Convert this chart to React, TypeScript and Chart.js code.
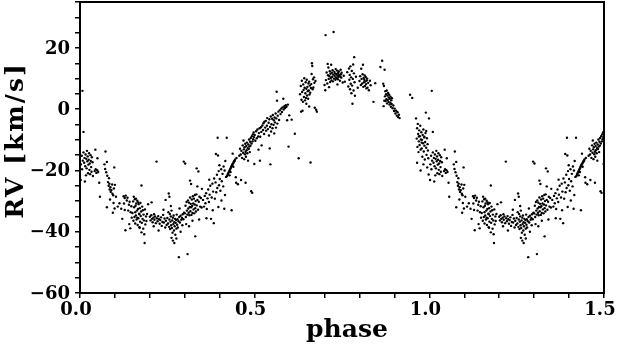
import { useEffect, useRef } from 'react';
import { Chart, registerables } from 'chart.js';

Chart.register(...registerables);

// Observations folded on phase [0,1): [phase, RV km/s]
const obsPhase00to10: [number, number][] = [
  [0.005,-15.2],[0.008,-16.8],[0.010,-14.1],[0.012,-17.5],[0.013,-15.9],[0.015,-18.6],[0.016,-14.8],[0.018,-16.2],
  [0.019,-19.3],[0.020,-13.6],[0.021,-17.0],[0.022,-15.4],[0.024,-18.1],[0.025,-16.5],[0.026,-14.4],[0.027,-19.8],
  [0.028,-17.7],[0.030,-15.0],[0.031,-16.9],[0.032,-18.9],[0.033,-20.4],[0.034,-15.7],[0.036,-17.3],[0.003,-18.0],
  [0.006,-19.6],[0.029,-21.2],[0.023,-20.9],[0.017,-21.6],[0.007,6.0],[0.010,-7.4],[0.002,-23.1],[0.014,-23.6],
  [0.037,-21.8],[0.042,-20.2],[0.045,-19.6],[0.047,-20.8],[0.049,-19.9],[0.052,-20.5],[0.050,-16.0],[0.055,-24.0],
  [0.057,-28.6],[0.044,-13.2],[0.073,-13.8],[0.070,-18.0],[0.072,-19.5],[0.075,-20.6],[0.078,-21.7],[0.077,-17.2],
  [0.080,-23.8],[0.082,-25.0],[0.084,-24.3],[0.085,-26.2],[0.087,-25.5],[0.088,-27.0],[0.090,-26.4],[0.092,-24.6],
  [0.093,-27.6],[0.095,-28.1],[0.097,-25.9],[0.098,-19.0],[0.100,-24.7],[0.077,-32.0],[0.099,-32.4],[0.096,-30.6],
  [0.094,-33.8],[0.086,-29.5],[0.083,-22.5],
];

const obsPhase10to20: [number, number][] = [
  [0.103,-28.6],[0.108,-31.8],[0.113,-30.7],[0.118,-32.5],[0.125,-28.4],[0.128,-29.0],[0.131,-28.2],[0.134,-29.8],
  [0.136,-28.9],[0.126,-30.8],[0.128,-32.9],[0.130,-39.5],[0.138,-33.1],[0.140,-31.2],[0.142,-30.2],[0.145,-33.6],
  [0.147,-31.7],[0.148,-35.4],[0.121,-35.8],[0.141,-37.5],[0.144,-38.9],
  [0.150,-33.9],[0.152,-30.1],[0.153,-36.4],[0.155,-32.0],[0.156,-35.2],[0.157,-29.4],[0.158,-37.3],[0.159,-31.5],
  [0.160,-34.7],[0.161,-30.8],[0.162,-36.0],[0.163,-33.1],[0.164,-29.9],[0.165,-37.8],[0.166,-32.6],[0.167,-35.6],
  [0.168,-31.0],[0.169,-34.1],[0.170,-38.5],[0.171,-32.3],[0.172,-36.7],[0.173,-30.6],[0.174,-34.9],[0.175,-33.4],
  [0.176,-24.9],[0.177,-37.1],[0.178,-31.8],[0.179,-35.8],[0.180,-33.0],[0.181,-39.0],[0.182,-34.4],[0.183,-36.3],
  [0.185,-43.7],[0.186,-32.7],[0.187,-37.6],[0.189,-35.0],[0.190,-36.5],[0.192,-34.2],[0.195,-31.0],[0.154,-28.6],
  [0.160,-29.2],[0.167,-30.4],[0.171,-38.7],[0.176,-40.2],[0.184,-40.8],[0.158,-33.6],[0.164,-35.4],[0.170,-34.3],
];

const obsPhase20to30: [number, number][] = [
  [0.200,-35.1],[0.202,-36.3],[0.204,-34.6],[0.206,-35.8],[0.208,-36.9],[0.210,-35.4],[0.212,-34.3],[0.213,-36.1],
  [0.215,-35.0],[0.217,-37.2],[0.219,-17.1],[0.220,-35.6],[0.222,-36.6],[0.224,-34.9],[0.226,-35.9],[0.228,-37.4],
  [0.230,-36.2],[0.232,-35.3],[0.234,-38.1],[0.236,-36.8],[0.238,-34.5],[0.240,-37.0],[0.242,-35.7],[0.244,-38.6],
  [0.246,-36.4],[0.248,-37.8],[0.205,-30.4],[0.211,-38.2],[0.225,-39.6],[0.239,-32.8],[0.245,-29.6],
  [0.250,-35.5],[0.252,-37.3],[0.253,-33.6],[0.255,-38.4],[0.256,-36.0],[0.257,-34.2],[0.258,-39.1],[0.259,-36.7],
  [0.260,-35.0],[0.261,-37.9],[0.262,-33.1],[0.263,-38.8],[0.264,-36.3],[0.265,-40.3],[0.266,-35.4],[0.267,-37.5],
  [0.268,-34.7],[0.269,-39.6],[0.270,-36.9],[0.271,-38.2],[0.272,-35.8],[0.273,-41.0],[0.274,-37.1],[0.275,-36.2],
  [0.276,-39.0],[0.277,-34.4],[0.278,-37.7],[0.279,-35.9],[0.280,-38.6],[0.282,-36.6],[0.284,-35.2],[0.286,-37.0],
  [0.288,-34.8],[0.290,-36.1],[0.292,-35.5],[0.294,-34.3],[0.296,-35.9],[0.298,-33.8],[0.254,-27.5],[0.256,-28.6],
  [0.260,-31.6],[0.266,-42.9],[0.270,-43.7],[0.276,-42.2],[0.283,-48.3],[0.297,-17.1],[0.288,-40.0],[0.262,-42.0],
  [0.285,-32.4],[0.293,-37.9],
];

const obsPhase30to40: [number, number][] = [
  [0.300,-34.0],[0.302,-31.5],[0.303,-35.2],[0.305,-30.3],[0.306,-33.1],[0.307,-34.4],[0.308,-47.3],[0.309,-29.8],
  [0.310,-32.4],[0.311,-33.8],[0.312,-30.5],[0.313,-34.6],[0.314,-31.9],[0.315,-28.8],[0.316,-33.3],[0.317,-30.9],
  [0.318,-32.0],[0.319,-34.5],[0.320,-29.5],[0.321,-31.6],[0.322,-33.9],[0.323,-28.4],[0.324,-30.8],[0.325,-32.7],
  [0.326,-29.2],[0.327,-34.0],[0.328,-31.1],[0.329,-28.0],[0.330,-32.3],[0.331,-30.0],[0.332,-33.4],[0.333,-27.8],
  [0.334,-31.4],[0.336,-29.6],[0.338,-32.8],[0.340,-30.2],[0.342,-28.6],[0.344,-31.8],[0.346,-29.0],[0.348,-32.1],
  [0.301,-17.7],[0.315,-23.3],[0.318,-24.4],[0.330,-41.5],[0.334,-19.3],[0.339,-20.3],[0.304,-37.5],[0.312,-38.2],
  [0.322,-36.4],[0.341,-36.0],[0.349,-26.0],[0.336,-25.2],
  [0.352,-29.6],[0.355,-31.8],[0.357,-28.3],[0.359,-30.7],[0.361,-27.4],[0.363,-32.6],[0.365,-29.1],[0.367,-26.2],
  [0.369,-30.3],[0.371,-27.9],[0.373,-25.0],[0.375,-35.8],[0.377,-28.8],[0.379,-24.3],[0.381,-26.9],[0.383,-37.2],
  [0.384,-22.6],[0.386,-29.2],[0.388,-23.9],[0.389,-14.6],[0.390,-27.1],[0.392,-21.4],[0.393,-25.7],[0.394,-9.3],
  [0.395,-15.1],[0.396,-31.9],[0.397,-20.2],[0.398,-24.8],[0.399,-18.3],[0.380,-33.0],[0.362,-35.6],[0.370,-23.0],
];

const obsPhase40to50: [number, number][] = [
  [0.400,-22.8],[0.402,-26.6],[0.404,-19.6],[0.405,-29.8],[0.406,-23.5],[0.408,-21.1],[0.410,-25.2],[0.411,-18.7],
  [0.413,-32.5],[0.414,-20.0],[0.415,-28.0],[0.416,-16.9],[0.418,-22.1],[0.420,-9.3],[0.421,-21.8],[0.423,-21.3],
  [0.424,-21.0],[0.426,-20.6],[0.427,-20.2],[0.429,-19.8],[0.430,-19.5],[0.432,-19.1],[0.433,-18.7],[0.434,-33.0],
  [0.435,-18.4],[0.436,-18.0],[0.437,-14.5],[0.438,-17.7],[0.440,-17.3],[0.441,-17.0],[0.443,-16.8],[0.444,-16.4],
  [0.446,-22.2],[0.447,-24.0],[0.448,-15.9],[0.428,-21.6],[0.431,-20.5],[0.439,-18.8],
  [0.452,-24.5],[0.456,-15.2],[0.458,-12.9],[0.460,-14.8],[0.462,-13.6],[0.464,-15.9],[0.466,-11.8],[0.467,-14.2],
  [0.468,-10.2],[0.469,-13.1],[0.470,-16.3],[0.471,-12.4],[0.472,-14.7],[0.473,-11.3],[0.474,-13.9],[0.475,-15.5],
  [0.476,-12.0],[0.477,-13.4],[0.478,-10.9],[0.479,-14.4],[0.480,-12.7],[0.481,-16.8],[0.482,-11.5],[0.483,-13.0],
  [0.484,-9.9],[0.485,-12.2],[0.486,-14.0],[0.487,-10.6],[0.488,-11.9],[0.489,-9.4],[0.490,-26.8],[0.491,-11.2],
  [0.492,-8.8],[0.493,-27.3],[0.494,-10.5],[0.495,-8.2],[0.496,-9.8],[0.497,-7.6],[0.498,-9.1],[0.499,-17.9],
  [0.461,-23.1],[0.474,-24.0],
];

const obsPhase50to60: [number, number][] = [
  [0.500,-8.4],[0.502,-10.3],[0.504,-7.2],[0.506,-9.5],[0.508,-6.6],[0.510,-8.9],[0.511,-13.2],[0.512,-7.8],
  [0.514,-6.2],[0.515,-16.8],[0.516,-9.0],[0.518,-5.9],[0.519,-7.4],[0.520,-11.8],[0.522,-5.3],[0.524,-6.8],
  [0.525,-4.6],[0.527,-8.1],[0.528,-4.1],[0.530,-6.0],[0.532,-3.8],[0.533,-7.0],[0.535,-5.4],[0.536,-2.9],
  [0.538,-6.5],[0.540,-4.4],[0.541,-8.6],[0.542,-3.3],[0.543,-12.8],[0.544,-5.8],[0.545,-18.0],[0.546,-2.4],
  [0.547,-7.3],[0.548,-4.9],[0.550,-3.1],[0.551,-6.2],[0.552,-1.9],[0.554,-5.1],[0.555,-3.6],[0.556,-7.9],
  [0.557,-2.7],[0.558,-4.3],[0.560,-1.4],[0.561,-6.0],[0.562,-3.0],[0.563,5.7],[0.564,2.8],[0.565,-4.7],
  [0.566,-2.1],[0.568,-0.8],[0.570,-3.5],[0.572,-0.3],[0.574,-1.6],[0.576,0.2],[0.578,-0.9],[0.580,0.6],
  [0.582,3.4],[0.583,-0.1],[0.585,1.0],[0.587,0.4],[0.589,1.3],[0.591,0.8],[0.593,-3.6],[0.595,1.5],
  [0.597,-12.2],[0.599,-2.0],
];

const obsPhase60to70: [number, number][] = [
  [0.606,-3.4],[0.615,-8.0],[0.626,-16.0],[0.630,4.9],[0.632,7.6],[0.634,3.1],[0.635,9.3],[0.636,5.6],
  [0.637,-0.5],[0.638,2.4],[0.639,8.1],[0.640,6.3],[0.641,4.0],[0.642,10.1],[0.643,7.0],[0.644,2.9],
  [0.645,5.2],[0.646,8.8],[0.647,3.7],[0.648,6.7],[0.649,9.6],[0.650,4.5],[0.651,7.3],[0.652,5.9],
  [0.653,3.4],[0.654,8.4],[0.655,6.1],[0.656,9.0],[0.657,4.8],[0.658,7.7],[0.659,5.4],[0.660,-17.4],
  [0.661,6.9],[0.662,8.2],[0.663,11.5],[0.664,15.0],[0.665,14.1],[0.666,6.5],[0.667,9.8],[0.668,7.1],
  [0.670,10.4],[0.671,8.6],[0.672,0.5],[0.674,9.2],[0.676,-0.2],[0.678,-0.8],[0.656,0.9],[0.648,1.8],
  [0.633,-0.8],
];

const obsPhase70to80: [number, number][] = [
  [0.700,7.9],[0.702,6.2],[0.703,24.2],[0.704,9.5],[0.706,12.0],[0.708,8.4],[0.710,11.1],[0.711,13.6],
  [0.712,9.9],[0.714,10.8],[0.715,12.4],[0.716,8.9],[0.717,11.6],[0.718,10.2],[0.719,14.5],[0.720,9.4],
  [0.721,11.9],[0.722,10.6],[0.723,12.7],[0.724,9.1],[0.725,11.3],[0.726,25.2],[0.727,10.0],[0.728,12.2],
  [0.729,10.9],[0.730,11.7],[0.731,9.6],[0.732,13.1],[0.733,10.4],[0.734,11.5],[0.735,10.1],[0.736,12.6],
  [0.737,11.0],[0.738,9.8],[0.739,11.8],[0.740,10.5],[0.741,12.3],[0.742,11.2],[0.744,9.3],[0.745,10.7],
  [0.746,12.9],[0.747,11.4],[0.748,10.3],[0.749,11.9],[0.713,7.2],[0.709,14.8],[0.737,8.1],
  [0.752,8.7],[0.755,10.9],[0.758,9.0],[0.765,12.1],[0.768,7.4],[0.770,13.3],[0.771,9.6],[0.772,11.2],
  [0.773,6.5],[0.774,14.0],[0.775,8.3],[0.776,10.4],[0.777,5.2],[0.778,12.5],[0.779,7.7],[0.780,1.8],
  [0.781,9.9],[0.782,14.6],[0.783,6.1],[0.784,11.7],[0.785,17.0],[0.786,8.8],[0.787,4.4],[0.790,10.6],
  [0.795,7.0],
];

const obsPhase80to90: [number, number][] = [
  [0.800,9.2],[0.802,10.8],[0.804,7.9],[0.805,13.2],[0.806,9.9],[0.808,8.4],[0.809,11.4],[0.810,14.5],
  [0.811,7.3],[0.812,10.2],[0.813,8.8],[0.814,9.6],[0.815,11.0],[0.816,7.6],[0.817,9.1],[0.818,10.5],
  [0.819,8.2],[0.820,6.8],[0.821,9.4],[0.822,10.0],[0.823,7.0],[0.825,8.6],[0.827,6.2],[0.830,9.3],
  [0.832,7.8],[0.840,2.4],[0.845,8.5],
  [0.860,13.8],[0.865,15.8],[0.868,8.3],[0.870,7.6],[0.871,2.8],[0.872,12.9],[0.873,4.2],[0.874,5.9],
  [0.875,2.7],[0.876,4.9],[0.877,3.3],[0.878,6.1],[0.879,1.9],[0.880,4.5],[0.881,3.0],[0.882,5.3],
  [0.883,2.4],[0.884,3.8],[0.885,4.7],[0.886,1.5],[0.887,3.4],[0.888,2.1],[0.889,4.1],[0.890,0.8],
  [0.891,2.9],[0.892,1.7],[0.893,3.6],[0.895,0.3],[0.897,1.2],[0.899,-0.6],[0.869,1.0],
];

const obsPhase90to100: [number, number][] = [
  [0.901,0.2],[0.903,-1.4],[0.905,-0.5],[0.907,-2.1],[0.909,-1.0],[0.911,-2.6],[0.913,-1.8],[0.915,-2.9],
  [0.945,4.7],[0.951,3.7],
  [0.962,-3.0],[0.964,-9.6],[0.965,-6.2],[0.966,-12.3],[0.967,-4.8],[0.968,-8.1],[0.969,-14.0],[0.970,-10.5],
  [0.971,-6.9],[0.972,-11.7],[0.973,-8.8],[0.974,-5.4],[0.975,-13.2],[0.976,-9.9],[0.977,-7.5],[0.978,-12.8],
  [0.979,-10.0],[0.980,-15.5],[0.981,-8.4],[0.982,-11.1],[0.983,-6.6],[0.984,-13.8],[0.985,-9.2],[0.986,-11.9],
  [0.987,-16.4],[0.988,-10.7],[0.989,-7.8],[0.990,-1.1],[0.991,-12.6],[0.992,-14.9],[0.993,-9.5],[0.994,-19.0],
  [0.995,-11.4],[0.996,-13.5],[0.997,-16.0],[0.998,-21.3],[0.999,-3.0],[0.965,-17.5],[0.975,-20.0],[0.983,-18.0],
  [0.970,-8.9],[0.978,-10.9],[0.986,-9.0],[0.991,-7.1],
];

const observations: [number, number][] = [
  ...obsPhase00to10, ...obsPhase10to20, ...obsPhase20to30, ...obsPhase30to40, ...obsPhase40to50,
  ...obsPhase50to60, ...obsPhase60to70, ...obsPhase70to80, ...obsPhase80to90, ...obsPhase90to100,
];

const xLabelValues = [0.0, 0.5, 1.0, 1.5];
const yLabelValues = [-60, -40, -20, 0, 20];
const xTitle = 'phase';
const yTitle = 'RV [km/s]';

const FONT = '"DejaVu Serif", serif';

const framePlugin = {
  id: 'frame',
  afterDatasetsDraw(chart: any) {
    const { ctx, chartArea } = chart;
    ctx.save();
    ctx.strokeStyle = '#000';
    ctx.lineWidth = 2;
    ctx.strokeRect(chartArea.left, chartArea.top, chartArea.right - chartArea.left, chartArea.bottom - chartArea.top);
    ctx.restore();
  },
};

const titlesPlugin = {
  id: 'titles',
  afterDraw(chart: any) {
    const { ctx, chartArea } = chart;
    ctx.save();
    ctx.fillStyle = '#000';
    ctx.font = `bold 25px ${FONT}`;
    ctx.textAlign = 'center';
    ctx.textBaseline = 'alphabetic';
    ctx.fillText(xTitle, (chartArea.left + chartArea.right) / 2 + 5, chartArea.bottom + 44);
    ctx.translate(22.5, (chartArea.top + chartArea.bottom) / 2 - 7);
    ctx.rotate(-Math.PI / 2);
    try { (ctx as any).letterSpacing = '2px'; } catch (e) { /* ignore */ }
    ctx.fillText(yTitle, 0, 0);
    ctx.restore();
  },
};

export default function App() {
  const ref = useRef<HTMLCanvasElement | null>(null);
  useEffect(() => {
    if (!ref.current) return;
    const firstCycle = observations.map(([p, v]) => ({ x: p, y: v }));
    const secondCycle = observations.filter(([p]) => p <= 0.5).map(([p, v]) => ({ x: p + 1, y: v }));
    const chart = new Chart(ref.current, {
      type: 'scatter',
      data: {
        datasets: [
          {
            data: [...firstCycle, ...secondCycle],
            backgroundColor: '#000',
            borderWidth: 0,
            pointRadius: 1.2,
            pointHoverRadius: 1.2,
          },
        ],
      },
      options: {
        animation: false,
        responsive: false,
        events: [],
        layout: { padding: { top: 2, right: 13, left: 0, bottom: 0 } },
        plugins: { legend: { display: false }, tooltip: { enabled: false } },
        scales: {
          x: {
            type: 'linear',
            min: 0,
            max: 1.5,
            border: { display: false },
            grid: { drawOnChartArea: false, drawTicks: true, tickLength: 5, color: '#000', lineWidth: 1.5 },
            ticks: {
              stepSize: 0.1,
              autoSkip: false,
              maxRotation: 0,
              padding: 2,
              labelOffset: -4,
              color: '#000',
              font: { family: FONT, size: 18, weight: 'bold' },
              callback: (v: any) => {
                const n = Number(v);
                const hit = xLabelValues.find((t) => Math.abs(t - n) < 1e-6);
                return hit !== undefined ? hit.toFixed(1) : '';
              },
            },
            title: { display: false },
            afterFit: (s: any) => {
              s.height = 54;
              s.paddingLeft = 0;
              s.paddingRight = 0;
            },
          },
          y: {
            type: 'linear',
            min: -60,
            max: 35,
            border: { display: false },
            grid: { drawOnChartArea: false, drawTicks: true, tickLength: 5, color: '#000', lineWidth: 1.5 },
            ticks: {
              stepSize: 5,
              autoSkip: false,
              padding: 5,
              labelOffset: 1,
              color: '#000',
              font: { family: FONT, size: 18, weight: 'bold' },
              callback: (v: any) => {
                const n = Number(v);
                const hit = yLabelValues.find((t) => Math.abs(t - n) < 1e-6);
                return hit !== undefined ? String(hit).replace('-', '\u2212') : '';
              },
            },
            title: { display: false },
            afterFit: (s: any) => {
              s.width = 80;
              s.paddingTop = 0;
              s.paddingBottom = 0;
            },
          },
        },
      },
      plugins: [framePlugin, titlesPlugin],
    });
    return () => chart.destroy();
  }, []);
  return (
    <div style={{ position: 'absolute', left: 0, top: 0, width: 617, height: 347 }}>
      <canvas ref={ref} width={617} height={347} style={{ width: 617, height: 347, display: 'block' }} />
    </div>
  );
}
